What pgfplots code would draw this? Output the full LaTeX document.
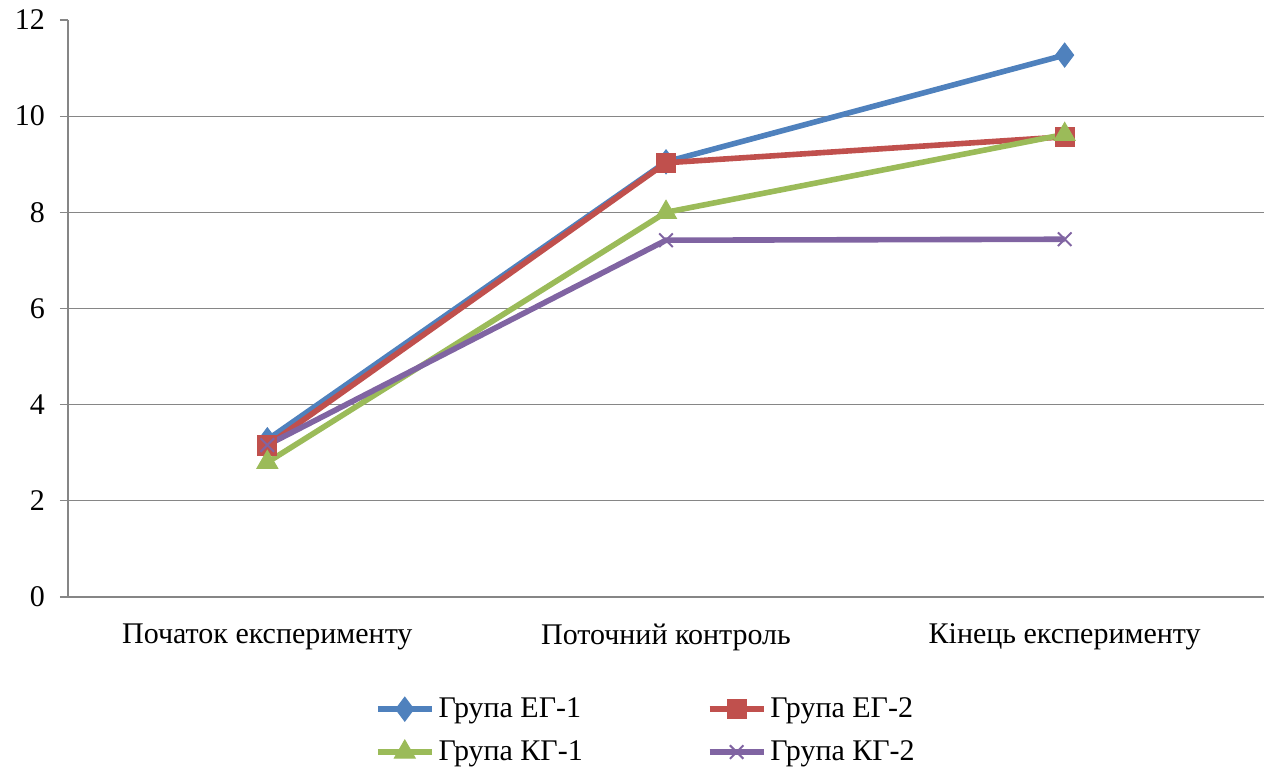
\documentclass[border=0pt]{standalone}
\usepackage{fontspec}
\setmainfont{Liberation Serif}
\usepackage{pgfplots}
\pgfplotsset{compat=1.18}

\definecolor{egone}{HTML}{4F81BD}
\definecolor{egtwo}{HTML}{C0504D}
\definecolor{kgone}{HTML}{9BBB59}
\definecolor{kgtwo}{HTML}{8064A2}
\definecolor{gridgray}{HTML}{868686}

\begin{document}
\begin{tikzpicture}
\begin{axis}[
  scale only axis,
  width=598pt, height=288.5pt,
  xmin=-0.5, xmax=2.5,
  ymin=0, ymax=12,
  ytick={0,2,...,10},
  extra y ticks={12},
  extra y tick style={grid=none},
  xtick={0,1,2},
  xticklabels={Початок експерименту, Поточний контроль, Кінець експерименту},
  major x tick style={draw=none},
  extra x ticks={-0.5,0.5,1.5,2.5},
  extra x tick labels={},
  extra x tick style={major tick length=3pt, tick style={draw=gridgray, line width=0.6pt}, grid=none},
  tick align=outside,
  major tick length=4pt,
  ymajorgrids,
  grid style={draw=gridgray, line width=0.6pt},
  axis x line*=bottom,
  axis y line*=left,
  axis line style={draw=gridgray, line width=0.6pt, -},
  y tick style={draw=gridgray, line width=0.6pt},
  font=\fontsize{15}{17}\selectfont,
  /pgf/number format/assume math mode=true,
  yticklabel style={xshift=-4pt},
  xticklabel style={yshift=-6pt},
  legend columns=2,
  legend cell align=left,
  legend style={draw=none, fill=none, at={(0.484,-0.16)}, anchor=north,
    /tikz/every even column/.append style={column sep=60pt},
    row sep=6pt, font=\fontsize{15}{17}\selectfont,
    nodes={inner xsep=2pt}},
  legend image code/.code={%
    \draw[mark repeat=2,mark phase=2] plot coordinates {(0pt,0pt)(13.5pt,0pt)(27pt,0pt)};},
  every axis plot/.append style={line width=2.8pt},
]
\addplot[egone, mark=diamond*, mark size=6pt, mark options={line width=0.5pt}]
  coordinates {(0,3.27) (1,9.05) (2,11.27)};
\addlegendentry{Група ЕГ-1}
\addplot[egtwo, mark=square*, mark size=4.8pt, mark options={line width=0.5pt}]
  coordinates {(0,3.15) (1,9.03) (2,9.57)};
\addlegendentry{Група ЕГ-2}
\addplot[kgone, mark=triangle*, mark size=6pt, mark options={line width=0.5pt}]
  coordinates {(0,2.80) (1,8.00) (2,9.62)};
\addlegendentry{Група КГ-1}
\addplot[kgtwo, mark=x, mark size=4.8pt, mark options={line width=1pt}]
  coordinates {(0,3.16) (1,7.42) (2,7.44)};
\addlegendentry{Група КГ-2}
\end{axis}
\pgfresetboundingbox
\path ([xshift=-34pt,yshift=-86pt]current axis.south west) rectangle ([xshift=0.5pt,yshift=10pt]current axis.north east);
\end{tikzpicture}
\end{document}
